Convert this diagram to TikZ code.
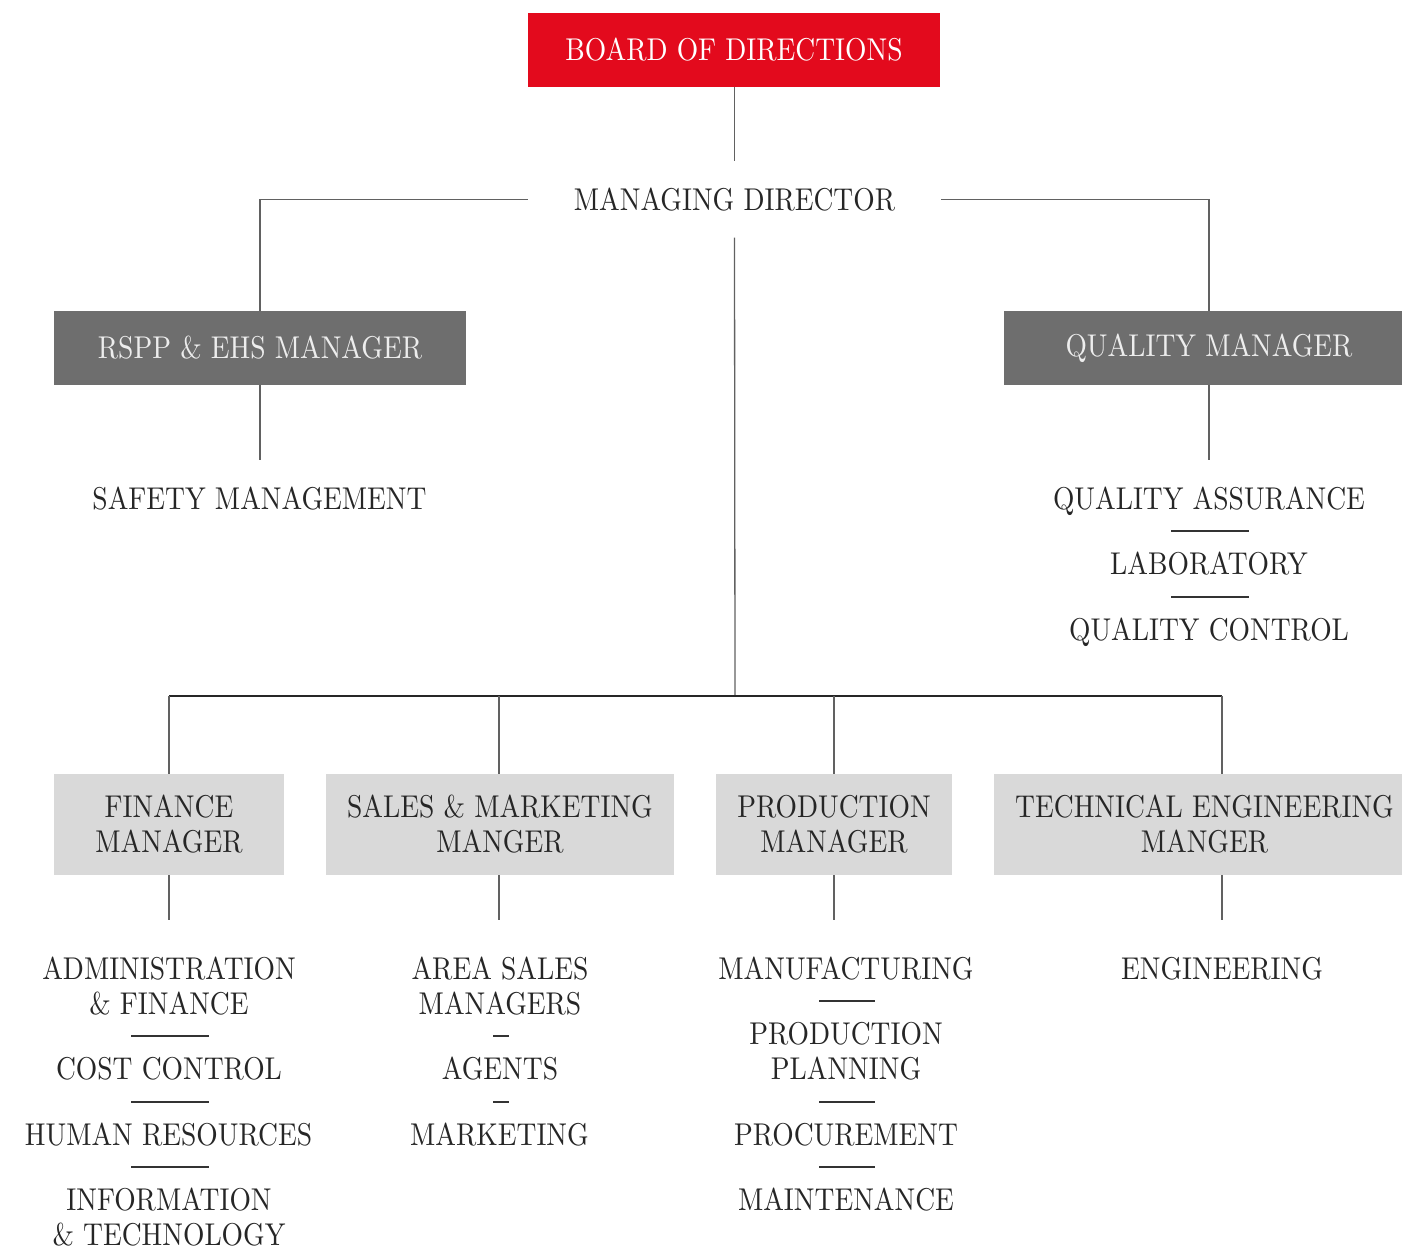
\documentclass[tikz,border=0pt]{standalone}
\usepackage{fontspec}
\setmainfont{lmroman10-regular.otf}[FakeStretch=0.875]
\definecolor{boardred}{HTML}{E30A1D}
\definecolor{mgrey}{HTML}{6E6E6E}
\definecolor{lgrey}{HTML}{D9D9D9}
\definecolor{ink}{HTML}{262626}
\definecolor{boxtext}{HTML}{EDEDED}
\tikzset{
  conn/.style={draw=black!62, line width=1.3pt},
  busline/.style={draw=black!85, line width=1.3pt},
  sepline/.style={draw=black!80, line width=1.3pt},
  redbox/.style={fill=boardred, text=white, minimum width=412pt, minimum height=74pt, inner sep=0pt},
  darkbox/.style={fill=mgrey, text=boxtext, minimum height=74pt, inner sep=0pt},
  lightbox/.style={fill=lgrey, text=ink, minimum height=101pt, inner sep=0pt, align=center},
  labone/.style={text=ink, inner sep=0pt, text height=21.5pt, text depth=0pt},
  labtwo/.style={text=ink, inner sep=0pt, align=center},
}
\begin{document}
\begin{tikzpicture}[x=1pt, y=-1pt, every node/.style={font=\fontsize{31.5}{35}\selectfont}]
\useasboundingbox (0,0) rectangle (1402,1248);
\clip (0,0) rectangle (1402,1248);

% top
\node[redbox] (board) at (734,50) {BOARD OF DIRECTIONS};
\node[labone, minimum width=413pt, minimum height=76pt] (md) at (734.5,199.5) {MANAGING DIRECTOR};
\draw[conn] (board.south -| md.north) -- (md.north);

% second level
\node[darkbox, minimum width=412pt] (rspp) at (260,348) {RSPP \& EHS MANAGER};
\node[darkbox, minimum width=410pt] (qm) at (1209,348) {QUALITY MANAGER};
\draw[conn] (md.west) -| (rspp.north);
\draw[conn] (md.east) -| (qm.north);

\node[labone] (safety) at (259.5,499) {SAFETY MANAGEMENT};
\draw[conn] (rspp.south) -- ([yshift=28pt]safety.north -| rspp.south);

\node[labone] (qa) at (1209,499) {QUALITY ASSURANCE};
\node[labone] (lab) at (1209,564) {LABORATORY};
\node[labone] (qc) at (1209,630) {QUALITY CONTROL};
\draw[conn] (qm.south) -- ([yshift=28pt]qa.north);
\draw[sepline] (1171,531) -- (1249,531);
\draw[sepline] (1171,597) -- (1249,597);

% third level boxes
\node[lightbox, minimum width=230pt] (fm) at (169,824.5) {FINANCE\\MANAGER};
\node[lightbox, minimum width=348pt] (sm) at (500,824.5) {SALES \& MARKETING\\MANGER};
\node[lightbox, minimum width=236pt] (pm) at (834,824.5) {PRODUCTION\\MANAGER};
\node[lightbox, minimum width=421pt] (tm) at (1204.5,824.5) {TECHNICAL ENGINEERING\\MANGER};

\coordinate (bus) at (735,696);
\coordinate (fdrop) at (169,920);
\coordinate (sdrop) at (499,920);
\coordinate (pdrop) at (834,920);
\coordinate (tdrop) at (1222,920);

\draw[conn] (md.south) -- (bus);
\draw[busline] (fm.north |- bus) -- (tdrop |- bus);
\draw[conn] (fm.north |- bus) -- (fm.north);
\draw[conn] (sdrop |- bus) -- (sdrop |- sm.north);
\draw[conn] (pm.north |- bus) -- (pm.north);
\draw[conn] (tdrop |- bus) -- (tdrop |- tm.north);

\draw[conn] (fm.south) -- (fdrop);
\draw[conn] (sdrop |- sm.south) -- (sdrop);
\draw[conn] (pm.south) -- (pdrop);
\draw[conn] (tdrop |- tm.south) -- (tdrop);

% finance column
\node[labtwo] (admin) at (169,986.5) {ADMINISTRATION\\\& FINANCE};
\node[labone] (cost) at (169,1069) {COST CONTROL};
\node[labone] (hr) at (168.5,1135) {HUMAN RESOURCES};
\node[labtwo] (info) at (169,1217.5) {INFORMATION\\\& TECHNOLOGY};
\draw[sepline] (131,1036) -- (209,1036);
\draw[sepline] (131,1102) -- (209,1102);
\draw[sepline] (131,1167) -- (209,1167);

% sales column
\node[labtwo] (asm) at (500,986.5) {AREA SALES\\MANAGERS};
\node[labone] (agents) at (500,1069) {AGENTS};
\node[labone] (mkt) at (499.5,1135) {MARKETING};
\draw[sepline] (493,1036) -- (509,1036);
\draw[sepline] (493,1102) -- (509,1102);

% production column
\node[labone] (manu) at (846,969) {MANUFACTURING};
\node[labtwo] (pp) at (846,1051.5) {PRODUCTION\\PLANNING};
\node[labone] (proc) at (846,1135) {PROCUREMENT};
\node[labone] (maint) at (846,1200) {MAINTENANCE};
\draw[sepline] (819,1001) -- (875,1001);
\draw[sepline] (819,1102) -- (875,1102);
\draw[sepline] (819,1167) -- (875,1167);

% technical column
\node[labone] (eng) at (1222,969) {ENGINEERING};
\end{tikzpicture}
\end{document}
